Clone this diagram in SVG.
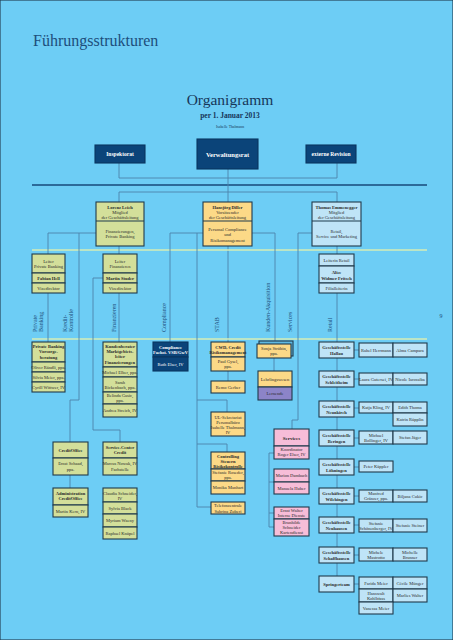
<svg xmlns="http://www.w3.org/2000/svg" width="453" height="640" viewBox="0 0 453 640">
<style>
text{font-family:"Liberation Serif","DejaVu Serif",serif;text-anchor:middle;fill:#2b2b2b;font-size:4.5px}
.tb{font-weight:bold}
.tw{fill:#ffffff;font-weight:bold}
.lab{font-size:6px;fill:#1d4e7c;text-anchor:start}
rect{stroke:#1f3a4c;stroke-width:1.1}
.g{fill:#d3df9a}
.y{fill:#fcd987}
.b{fill:#bfe4f7}
.p{fill:#f7bdd8}
.d{fill:#0b4479;stroke:#0a3560}
.v{fill:#8c84c8}
.c line,.c polyline{stroke:#4c84ab;stroke-width:0.9;fill:none}
</style>
<rect x="0" y="0" width="453" height="640" fill="#6dcdf5" stroke="none"/>
<text x="33" y="46" style="font-size:16px;fill:#1d4e7c;text-anchor:start">Führungsstrukturen</text>
<text x="230" y="105" style="font-size:15.5px;fill:#17375a">Organigramm</text>
<text x="230" y="118" class="tb" style="font-size:7.5px;fill:#17375a">per 1. Januar 2013</text>
<text x="230" y="127.5" style="font-size:3.8px;fill:#17375a">Isabelle Thalmann</text>
<text x="441" y="318" style="font-size:6px;fill:#1d4e7c">9</text>

<g id="connectors" class="c">
<line x1="119" y1="163" x2="119" y2="178"/>
<line x1="337" y1="163" x2="337" y2="178"/>
<line x1="119" y1="178" x2="337" y2="178"/>
<line x1="32" y1="185" x2="427" y2="185" style="stroke:#17497a;stroke-width:1.5"/>
<line x1="119" y1="192" x2="337" y2="192"/>
<line x1="119" y1="192" x2="119" y2="202"/>
<line x1="337" y1="192" x2="337" y2="202"/>
<line x1="228" y1="169" x2="228" y2="342"/>
<line x1="32" y1="250" x2="427" y2="250" style="stroke:#d6ecb6;stroke-width:1.5"/>
<line x1="32" y1="339" x2="427" y2="339" style="stroke:#d6ecb6;stroke-width:1.5"/>
<line x1="48" y1="233" x2="96" y2="233"/>
<line x1="48" y1="233" x2="48" y2="342"/>
<polyline points="79,233 79,400 70,400 70,442"/>
<line x1="119" y1="246" x2="119" y2="254"/>
<line x1="119" y1="293" x2="119" y2="342"/>
<polyline points="103,278 93,278 93,430 120,430 120,442"/>
<line x1="70" y1="475" x2="70" y2="488"/>
<line x1="170" y1="233" x2="203" y2="233"/>
<line x1="170" y1="233" x2="170" y2="342"/>
<line x1="197" y1="233" x2="197" y2="507"/>
<line x1="197" y1="507" x2="211" y2="507"/>
<polyline points="197,400 227,400 227,412"/>
<polyline points="197,444 227,444 227,452"/>
<line x1="228" y1="371" x2="228" y2="381"/>
<line x1="252" y1="233" x2="275" y2="233"/>
<line x1="275" y1="233" x2="275" y2="343"/>
<line x1="274" y1="358" x2="274" y2="371"/>
<line x1="298" y1="233" x2="312" y2="233"/>
<polyline points="298,233 298,420 292,420 292,429"/>
<line x1="269" y1="453" x2="269" y2="527"/>
<line x1="269" y1="453" x2="274" y2="453"/>
<line x1="269" y1="482" x2="274" y2="482"/>
<line x1="269" y1="513" x2="274" y2="513"/>
<line x1="269" y1="527" x2="274" y2="527"/>
<line x1="337" y1="246" x2="337" y2="254"/>
<line x1="337" y1="293" x2="337" y2="576"/>
<line x1="354" y1="350" x2="359" y2="350"/>
<line x1="354" y1="379" x2="359" y2="379"/>
<line x1="354" y1="408" x2="359" y2="408"/>
<line x1="354" y1="438" x2="359" y2="438"/>
<line x1="354" y1="467" x2="359" y2="467"/>
<line x1="354" y1="496" x2="359" y2="496"/>
<line x1="354" y1="525" x2="359" y2="525"/>
<line x1="354" y1="555" x2="359" y2="555"/>
<line x1="354" y1="584" x2="359" y2="584"/>
</g>

<g id="labels">
<text class="lab" transform="translate(37,332) rotate(-90)">Private</text>
<text class="lab" transform="translate(43,332) rotate(-90)">Banking</text>
<text class="lab" transform="translate(67,332) rotate(-90)">Kredit-</text>
<text class="lab" transform="translate(73,332) rotate(-90)">Kontrolle</text>
<text class="lab" transform="translate(116,332) rotate(-90)">Finanzieren</text>
<text class="lab" transform="translate(166,332) rotate(-90)">Compliance</text>
<text class="lab" transform="translate(219,332) rotate(-90)">STAB</text>
<text class="lab" transform="translate(270,332) rotate(-90)">Kunden-Akquisition</text>
<text class="lab" transform="translate(292,332) rotate(-90)">Services</text>
<text class="lab" transform="translate(332,332) rotate(-90)">Retail</text>
</g>

<g id="inspektorat"><rect class="d" x="95" y="145" width="50" height="18"/><text class="tw" x="120" y="156" style="font-size:5.5px">Inspektorat</text></g>
<g id="verwaltungsrat"><rect class="d" x="197" y="139" width="61" height="30"/><text class="tw" x="227.5" y="156.5" style="font-size:6.5px">Verwaltungsrat</text></g>
<g id="revision"><rect class="d" x="306" y="145" width="50" height="18"/><text class="tw" x="331" y="156" style="font-size:5.5px">externe Revision</text></g>

<g id="leich"><rect class="g" x="96" y="202" width="48" height="44"/><line x1="96" y1="221" x2="144" y2="221" stroke="#1f3a4c" stroke-width="1.1"/>
<text class="tb" x="120" y="209">Lorenz Leich</text><text x="120" y="214">Mitglied</text><text x="120" y="219">der Geschäftsleitung</text>
<text x="120" y="232.5">Finanzierungen,</text><text x="120" y="238">Private Banking</text></g>
<g id="diller"><rect class="y" x="203" y="202" width="49" height="44"/><line x1="203" y1="221" x2="252" y2="221" stroke="#1f3a4c" stroke-width="1.1"/>
<text class="tb" x="227.5" y="209">Hansjörg Diller</text><text x="227.5" y="214">Vorsitzender</text><text x="227.5" y="219">der Geschäftsleitung</text>
<text x="227.5" y="231">Personal Compliance</text><text x="227.5" y="236">und</text><text x="227.5" y="241.5">Risikomanagement</text></g>
<g id="emmenegger"><rect class="b" x="312" y="202" width="49" height="44"/><line x1="312" y1="221" x2="361" y2="221" stroke="#1f3a4c" stroke-width="1.1"/>
<text class="tb" x="336.5" y="209">Thomas Emmenegger</text><text x="336.5" y="214">Mitglied</text><text x="336.5" y="219">der Geschäftsleitung</text>
<text x="336.5" y="232.5">Retail,</text><text x="336.5" y="238">Service und Marketing</text></g>

<g id="leiter-pb"><rect class="g" x="32" y="254" width="33" height="19"/><rect class="g" x="32" y="273" width="33" height="10"/><rect class="g" x="32" y="283" width="33" height="10"/>
<text x="48.5" y="262.5">Leiter</text><text x="48.5" y="267.5">Private Banking</text><text class="tb" x="48.5" y="279.5">Fabian Hell</text><text x="48.5" y="289.5">Vizedirektor</text></g>
<g id="leiter-fin"><rect class="g" x="103" y="254" width="34" height="19"/><rect class="g" x="103" y="273" width="34" height="10"/><rect class="g" x="103" y="283" width="34" height="10"/>
<text x="120" y="262.5">Leiter</text><text x="120" y="267.5">Finanzieren</text><text class="tb" x="120" y="279.5">Martin Studer</text><text x="120" y="289.5">Vizedirektor</text></g>
<g id="leiterin-retail"><rect class="b" x="319" y="254" width="35" height="12"/><rect class="b" x="319" y="266" width="35" height="17"/><rect class="b" x="319" y="283" width="35" height="10"/>
<text x="336.5" y="262">Leiterin Retail</text><text class="tb" x="336.5" y="274">Alice</text><text class="tb" x="336.5" y="279.5">Widmer Fritsch</text><text x="336.5" y="289.5">Filialleiterin</text></g>

<g id="private-banking"><rect class="g" x="32" y="342" width="33" height="20"/><rect class="g" x="32" y="362" width="33" height="10"/><rect class="g" x="32" y="372" width="33" height="10"/><rect class="g" x="32" y="382" width="33" height="10"/>
<text class="tb" x="48.5" y="347.5">Private Banking</text><text class="tb" x="48.5" y="353">Vorsorge-</text><text class="tb" x="48.5" y="358.5">beratung</text>
<text x="48.5" y="368.5">Oliver Rändli, ppa.</text><text x="48.5" y="378.5">Silvia Meier, ppa.</text><text x="48.5" y="388.5">Cyrill Wittwer, IV</text></g>
<g id="kundenberater"><rect class="g" x="103" y="342" width="34" height="25"/><rect class="g" x="103" y="367" width="34" height="10"/><rect class="g" x="103" y="377" width="34" height="15"/><rect class="g" x="103" y="392" width="34" height="12"/><rect class="g" x="103" y="404" width="34" height="13"/>
<text class="tb" x="120" y="348">Kundenberater</text><text class="tb" x="120" y="353">Marktgebiets-</text><text class="tb" x="120" y="358">leiter</text><text class="tb" x="120" y="363.5">Finanzierungen</text>
<text x="120" y="373.5">Michael Elber, ppa.</text><text x="120" y="383.5">Sarah</text><text x="120" y="389">Bickenbach, ppa.</text>
<text x="120" y="397">Belinda Gasic,</text><text x="120" y="402">ppa.</text><text x="120" y="412">Andrea Streich, IV</text></g>
<g id="compliance"><rect class="d" x="153" y="342" width="35" height="15"/><rect class="d" x="153" y="357" width="35" height="14"/>
<text class="tw" x="170.5" y="348.5">Compliance</text><text class="tw" x="170.5" y="354">Fachst. VSB/GwV</text><text x="170.5" y="366" style="fill:#ffffff">Ruth Elser, IV</text></g>
<g id="cwd"><rect class="y" x="211" y="342" width="34" height="15"/><rect class="y" x="211" y="357" width="34" height="14"/>
<text class="tb" x="228" y="348.5">CWD, Credit</text><text class="tb" x="228" y="354">Risikomanagement</text><text x="228" y="363">Paul Gysel,</text><text x="228" y="368">ppa.</text></g>
<g id="gerber"><rect class="y" x="211" y="381" width="34" height="12"/><text x="228" y="388.5">Remo Gerber</text></g>
<g id="sekretariat"><rect class="y" x="211" y="412" width="34" height="24"/>
<text x="228" y="418.5">UL-Sekretariat</text><text x="228" y="423.5">Personalbüro</text><text x="228" y="428.5">Isabelle Thalmann,</text><text x="228" y="433.5">IV</text></g>
<g id="controlling"><rect class="y" x="211" y="452" width="34" height="17"/><rect class="y" x="211" y="469" width="34" height="12"/><rect class="y" x="211" y="481" width="34" height="13"/>
<text class="tb" x="228" y="457.5">Controlling</text><text class="tb" x="228" y="462.5">Steuern</text><text class="tb" x="228" y="467.5">Risikokontrolle</text>
<text x="228" y="473.5">Stefanie Roseder,</text><text x="228" y="478.5">ppa.</text><text x="228" y="489">Monika Manhart</text></g>
<g id="telefon"><rect class="y" x="211" y="502" width="34" height="12"/><text x="228" y="507">Telefonzentrale</text><text x="228" y="512.5">Sabrina Zuberi</text></g>

<g id="creditoffice"><rect class="g" x="53" y="442" width="35" height="16"/><rect class="g" x="53" y="458" width="35" height="17"/>
<text class="tb" x="70.5" y="451.5">CreditOffice</text><text x="70.5" y="465">Ernst Schaad,</text><text x="70.5" y="470.5">ppa.</text></g>
<g id="admin"><rect class="g" x="53" y="488" width="35" height="17"/><rect class="g" x="53" y="505" width="35" height="12"/>
<text class="tb" x="70.5" y="494.5">Administration</text><text class="tb" x="70.5" y="500">CreditOffice</text><text x="70.5" y="512.5">Martin Kern, IV</text></g>
<g id="servicecenter"><rect class="g" x="103" y="442" width="34" height="16"/><rect class="g" x="103" y="458" width="34" height="17"/>
<text class="tb" x="120" y="448.5">Service-Center</text><text class="tb" x="120" y="454">Credit</text><text x="120" y="465">Marcus Nowak, IV</text><text x="120" y="470.5">Fachstelle</text></g>
<g id="credit-team"><rect class="g" x="103" y="488" width="34" height="14"/><rect class="g" x="103" y="502" width="34" height="12"/><rect class="g" x="103" y="514" width="34" height="13"/><rect class="g" x="103" y="527" width="34" height="12"/>
<text x="120" y="494.5">Claudia Schneider,</text><text x="120" y="499.5">IV</text><text x="120" y="509.5">Sylvia Black</text><text x="120" y="522">Myriam Waeny</text><text x="120" y="534.5">Raphael Knüpel</text></g>

<g id="strubin"><rect x="259" y="341" width="34" height="15" fill="#5fb9e2"/><rect class="y" x="257" y="344" width="34" height="14"/>
<text x="274" y="350">Sonja Strübin,</text><text x="274" y="355">ppa.</text></g>
<g id="lehrlingswesen"><rect class="y" x="258" y="371" width="34" height="16"/><rect class="v" x="258" y="387" width="34" height="13"/>
<text x="275" y="380.5">Lehrlingswesen</text><text x="275" y="395">Lernende</text></g>

<g id="services"><rect class="p" x="274" y="429" width="35" height="17"/><rect class="p" x="274" y="446" width="35" height="13"/>
<text class="tb" x="291.5" y="439.5" style="font-size:5px">Services</text><text x="291.5" y="451">Koordinator</text><text x="291.5" y="456">Roger Elser, IV</text></g>
<g id="services-team"><rect class="p" x="274" y="469" width="35" height="13"/><rect class="p" x="274" y="482" width="35" height="12"/>
<text x="291.5" y="477">Marion Dambach</text><text x="291.5" y="490">Manuela Huber</text></g>
<g id="services-team2"><rect class="p" x="274" y="507" width="35" height="12"/><rect class="p" x="274" y="519" width="35" height="17"/>
<text x="291.5" y="512">Ernst Walter</text><text x="291.5" y="517">Interne Dienste</text>
<text x="291.5" y="524">Brunhilde</text><text x="291.5" y="529">Schneider</text><text x="291.5" y="534">Kartendienst</text></g>

<g id="hallau"><rect class="b" x="319" y="342" width="35" height="16"/><text class="tb" x="336.5" y="348.5">Geschäftsstelle</text><text class="tb" x="336.5" y="354.5">Hallau</text>
<rect class="b" x="359" y="343" width="34" height="14"/><rect class="b" x="393" y="343" width="34" height="14"/><text x="376" y="351.5">Rahel Herrmann</text><text x="410" y="351.5">Alma Campara</text></g>
<g id="schleitheim"><rect class="b" x="319" y="371" width="35" height="16"/><text class="tb" x="336.5" y="377.5">Geschäftsstelle</text><text class="tb" x="336.5" y="383.5">Schleitheim</text>
<rect class="b" x="359" y="373" width="34" height="12"/><rect class="b" x="393" y="373" width="34" height="12"/><text x="376" y="380.5">Laura Gutersei, IV</text><text x="410" y="380.5">Nicole Iarossiba</text></g>
<g id="neunkirch"><rect class="b" x="319" y="401" width="35" height="16"/><text class="tb" x="336.5" y="407.5">Geschäftsstelle</text><text class="tb" x="336.5" y="413.5">Neunkirch</text>
<rect class="b" x="359" y="402" width="34" height="11"/><rect class="b" x="393" y="402" width="34" height="11"/><rect class="b" x="393" y="413" width="34" height="13"/>
<text x="376" y="409">Katja Kling, IV</text><text x="410" y="409">Edith Thoma</text><text x="410" y="421">Katrin Rüpplin</text></g>
<g id="beringen"><rect class="b" x="319" y="430" width="35" height="16"/><text class="tb" x="336.5" y="436.5">Geschäftsstelle</text><text class="tb" x="336.5" y="442.5">Beringen</text>
<rect class="b" x="359" y="431" width="34" height="13"/><rect class="b" x="393" y="431" width="34" height="13"/><text x="376" y="436.5">Michael</text><text x="376" y="441.5">Bollinger, IV</text><text x="410" y="439">Stefan Jäger</text></g>
<g id="lohningen"><rect class="b" x="319" y="459" width="35" height="16"/><text class="tb" x="336.5" y="465.5">Geschäftsstelle</text><text class="tb" x="336.5" y="471.5">Löhningen</text>
<rect class="b" x="359" y="461" width="34" height="11"/><text x="376" y="468">Peter Käppler</text></g>
<g id="wilchingen"><rect class="b" x="319" y="488" width="35" height="16"/><text class="tb" x="336.5" y="494.5">Geschäftsstelle</text><text class="tb" x="336.5" y="500.5">Wilchingen</text>
<rect class="b" x="359" y="490" width="34" height="12"/><rect class="b" x="393" y="490" width="34" height="12"/><text x="376" y="495">Manfred</text><text x="376" y="500">Gränzer, ppa.</text><text x="410" y="497.5">Biljana Cukic</text></g>
<g id="neuhausen"><rect class="b" x="319" y="517" width="35" height="16"/><text class="tb" x="336.5" y="523.5">Geschäftsstelle</text><text class="tb" x="336.5" y="529.5">Neuhausen</text>
<rect class="b" x="359" y="519" width="34" height="13"/><rect class="b" x="393" y="519" width="34" height="13"/><text x="376" y="524.5">Stefanie</text><text x="376" y="529.5">Schönenberger, IV</text><text x="410" y="527">Stefanie Steiner</text></g>
<g id="schaffhausen"><rect class="b" x="319" y="547" width="35" height="16"/><text class="tb" x="336.5" y="553.5">Geschäftsstelle</text><text class="tb" x="336.5" y="559.5">Schaffhausen</text>
<rect class="b" x="359" y="548" width="34" height="13"/><rect class="b" x="393" y="548" width="34" height="13"/><text x="376" y="553.5">Michele</text><text x="376" y="558.5">Mastrotto</text><text x="410" y="553.5">Michelle</text><text x="410" y="558.5">Brunner</text></g>
<g id="springerteam"><rect class="b" x="319" y="576" width="35" height="16"/><text class="tb" x="336.5" y="585.5">Springerteam</text>
<rect class="b" x="359" y="577" width="34" height="12"/><rect class="b" x="393" y="577" width="34" height="12"/><rect class="b" x="359" y="589" width="34" height="13"/><rect class="b" x="393" y="589" width="34" height="13"/><rect class="b" x="359" y="602" width="34" height="12"/>
<text x="376" y="584.5">Farida Meier</text><text x="410" y="584.5">Cécile Münger</text><text x="376" y="594.5">Hanswalt</text><text x="376" y="599.5">Kohlhfass</text><text x="410" y="597">Marlies Walter</text><text x="376" y="609.5">Vanessa Meier</text></g>
</svg>
